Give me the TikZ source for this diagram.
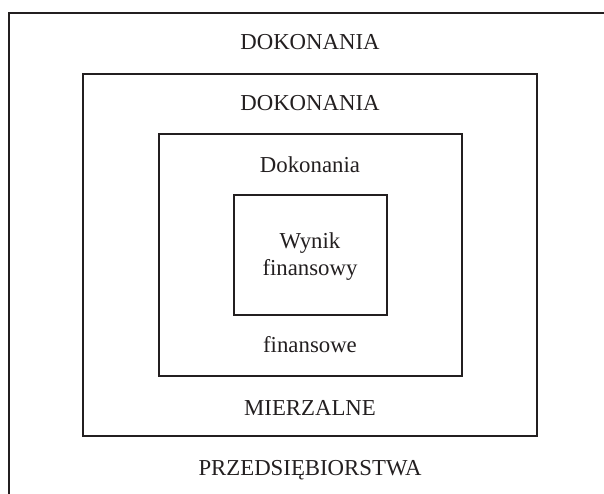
\documentclass[tikz,border=0pt]{standalone}
\usepackage{fontspec}
\setmainfont{Liberation Serif}
\usepackage{xcolor}
\definecolor{frameGray}{HTML}{231F20}
\usepackage{tikz}
\usetikzlibrary{positioning}

\tikzset{
    frame/.style={draw=frameGray, line width=2pt, rectangle, inner sep=0pt},
    label/.style={anchor=base, font=\fontsize{22.8}{27}\selectfont, text=frameGray, align=center}
}

\begin{document}
\begin{tikzpicture}[x=1pt, y=-1pt]
    \useasboundingbox (0,0) rectangle (604,494);
    \clip (0,0) rectangle (604,494);
    % nested frames, all centred on the same point
    \coordinate (mid) at (310,255);
    \node[frame, minimum width=612pt, minimum height=498pt, anchor=north west] (firm) at (8,12) {};
    \node[frame, minimum width=454pt, minimum height=362pt] (measurable) at (mid) {};
    \node[frame, minimum width=303pt, minimum height=241pt] (financial) at (mid) {};
    \node[frame, minimum width=153pt, minimum height=119pt] (result) at (mid) {};
    % texts
    \node[label] (t1) at (310,50) {DOKONANIA};
    \node[label] (t2) at (310,111) {DOKONANIA};
    \node[label] (t3) at (310,173) {Dokonania};
    \node[label] (t4) at (310,275) {Wynik\\finansowy};
    \node[label] (t5) at (310,352) {finansowe};
    \node[label] (t6) at (310,415) {MIERZALNE};
    \node[label] (t7) at (310,475) {PRZEDSIĘBIORSTWA};
\end{tikzpicture}
\end{document}
